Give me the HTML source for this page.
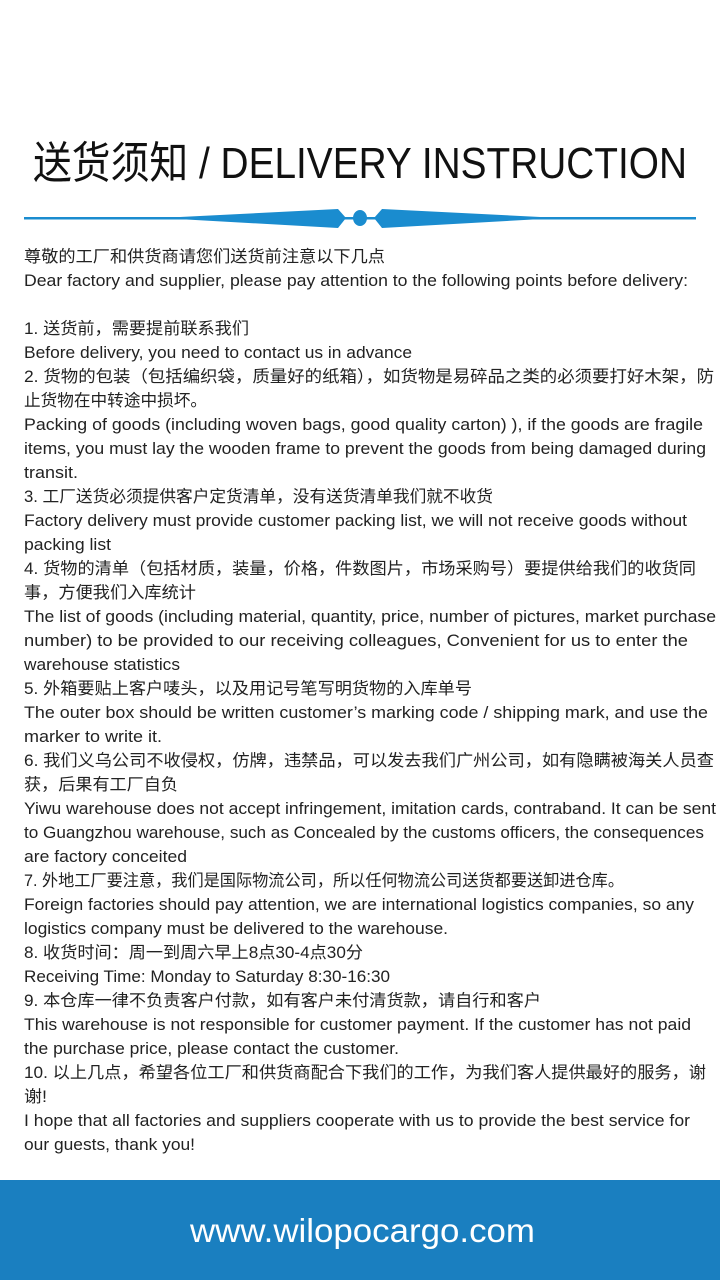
<!DOCTYPE html>
<html><head><meta charset="utf-8">
<style>
html,body{margin:0;padding:0;background:#fff;}
svg{display:block;}
.b{font-family:"Liberation Sans","Noto Sans CJK SC",sans-serif;font-size:16.5px;fill:#222;}
</style></head>
<body>
<svg width="720" height="1280" viewBox="0 0 720 1280">
<text x="33" y="178" textLength="654" lengthAdjust="spacingAndGlyphs" font-family="'Liberation Sans','Noto Sans CJK SC',sans-serif" font-size="44" fill="#111">送货须知 / DELIVERY INSTRUCTION</text>
<g fill="#1a8ccf">
<rect x="24" y="217" width="672" height="2.5"/>
<polygon points="160,218 338,209 346,218 338,228"/>
<polygon points="560,218 382,209 374,218 382,228"/>
<ellipse cx="360" cy="218" rx="7" ry="8"/>
</g>
<g id="body"></g>
<rect x="0" y="1180" width="720" height="100" fill="#1a7fc0"/>
<text x="190" y="1242" textLength="345" lengthAdjust="spacingAndGlyphs" font-family="'Liberation Sans',sans-serif" font-size="33" fill="#fff">www.wilopocargo.com</text>
</svg>
<script>
const lines = [
["尊敬的工厂和供货商请您们送货前注意以下几点",385],
["Dear factory and supplier, please pay attention to the following points before delivery:",688],
["",0],
["1. 送货前，需要提前联系我们",249],
["Before delivery, you need to contact us in advance",412],
["2. 货物的包装（包括编织袋，质量好的纸箱），如货物是易碎品之类的必须要打好木架，防",714],
["止货物在中转途中损坏。",207],
["Packing of goods (including woven bags, good quality carton) ), if the goods are fragile",703],
["items, you must lay the wooden frame to prevent the goods from being damaged during",706],
["transit.",78],
["3. 工厂送货必须提供客户定货清单，没有送货清单我们就不收货",493],
["Factory delivery must provide customer packing list, we will not receive goods without",687],
["packing list",111],
["4. 货物的清单（包括材质，装量，价格，件数图片，市场采购号）要提供给我们的收货同",696],
["事，方便我们入库统计",196],
["The list of goods (including material, quantity, price, number of pictures, market purchase",716],
["number) to be provided to our receiving colleagues, Convenient for us to enter the",688],
["warehouse statistics",180],
["5. 外箱要贴上客户唛头，以及用记号笔写明货物的入库单号",472],
["The outer box should be written customer’s marking code / shipping mark, and use the",708],
["marker to write it.",162],
["6. 我们义乌公司不收侵权，仿牌，违禁品，可以发去我们广州公司，如有隐瞒被海关人员查",714],
["获，后果有工厂自负",178],
["Yiwu warehouse does not accept infringement, imitation cards, contraband. It can be sent",716],
["to Guangzhou warehouse, such as Concealed by the customs officers, the consequences",704],
["are factory conceited",187],
["7. 外地工厂要注意，我们是国际物流公司，所以任何物流公司送货都要送卸进仓库。",624],
["Foreign factories should pay attention, we are international logistics companies, so any",694],
["logistics company must be delivered to the warehouse.",448],
["8. 收货时间：周一到周六早上8点30-4点30分",363],
["Receiving Time: Monday to Saturday 8:30-16:30",390],
["9. 本仓库一律不负责客户付款，如有客户未付清货款，请自行和客户",541],
["This warehouse is not responsible for customer payment. If the customer has not paid",691],
["the purchase price, please contact the customer.",399],
["10. 以上几点，希望各位工厂和供货商配合下我们的工作，为我们客人提供最好的服务，谢",706],
["谢!",47],
["I hope that all factories and suppliers cooperate with us to provide the best service for",690],
["our guests, thank you!",195]
];
const g = document.getElementById('body');
const NS = 'http://www.w3.org/2000/svg';
lines.forEach((l, i) => {
  if (!l[0]) return;
  const t = document.createElementNS(NS, 'text');
  t.setAttribute('class', 'b');
  t.setAttribute('x', 24);
  t.setAttribute('y', 262 + 24 * i);
  t.setAttribute('textLength', l[1] - 24);
  t.setAttribute('lengthAdjust', 'spacingAndGlyphs');
  t.textContent = l[0];
  
  
  g.appendChild(t);
});
</script>
</body></html>
